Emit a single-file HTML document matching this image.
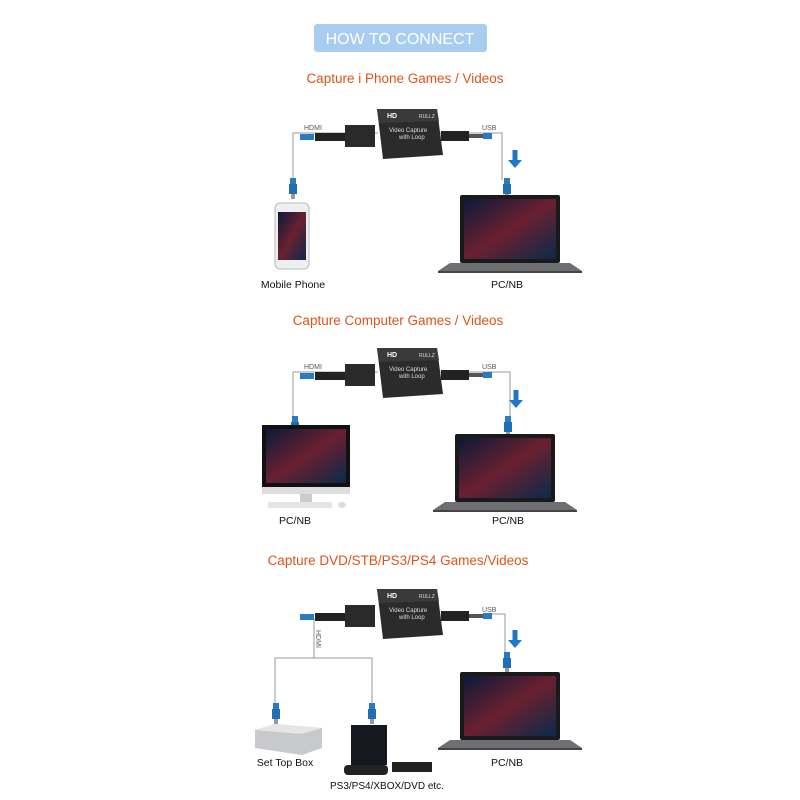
<!DOCTYPE html>
<html><head><meta charset="utf-8"><style>
body{margin:0;background:#fff;}
svg{display:block;font-family:"Liberation Sans",sans-serif;}
</style></head><body>
<svg width="800" height="800" viewBox="0 0 800 800" xmlns="http://www.w3.org/2000/svg">
<defs>
<g id="dev">
  <rect x="-70" y="-2" width="40" height="8" fill="#222"/>
  <rect x="-40" y="-10" width="30" height="22" fill="#2a2a2a"/>
  <rect x="-85" y="-1" width="14" height="6" fill="#2a7bc4"/>
  <polygon points="-8,-26 52,-26 58,20 -2,24" fill="#2b2b2b"/>
  <polygon points="-8,-26 52,-26 54,-14 -6,-12" fill="#3a3a3a"/>
  <text x="2" y="-17" font-size="7" fill="#fff" font-weight="bold">HD</text>
  <text x="34" y="-17" font-size="5" fill="#ddd">RULLZ</text>
  <text x="4" y="-3" font-size="6" fill="#ddd">Video  Capture</text>
  <text x="14" y="4" font-size="6" fill="#ddd">with Loop</text>
  <rect x="56" y="-4" width="28" height="10" fill="#222"/>
  <rect x="84" y="-1" width="14" height="4" fill="#555"/>
  <rect x="98" y="-2" width="9" height="6" fill="#2a7bc4"/>
</g>
<g id="plug">
  <rect x="-3" y="-12" width="6" height="6" fill="#2a7bc4"/>
  <rect x="-4" y="-6" width="8" height="10" fill="#1f6fb5"/>
  <rect x="-2" y="4" width="4" height="5" fill="#999"/>
</g>
<g id="arrow">
  <rect x="-2.5" y="-10" width="5" height="10" fill="#1e78c8"/>
  <polygon points="-7,0 7,0 0,8" fill="#1e78c8"/>
</g>
<linearGradient id="scr" x1="0" y1="0" x2="1" y2="1">
  <stop offset="0" stop-color="#0b1a3a"/><stop offset="0.5" stop-color="#6a2030"/><stop offset="1" stop-color="#0a2a4a"/>
</linearGradient>
<g id="laptop">
  <rect x="0" y="0" width="100" height="68" rx="2" fill="#1a1a1a"/>
  <rect x="4" y="4" width="92" height="60" fill="url(#scr)"/>
  <polygon points="-10,68 110,68 122,76 -22,76" fill="#6e6f73"/>
  <rect x="-22" y="76" width="144" height="2" fill="#444"/>
</g>
</defs>

<rect x="314" y="24" width="173" height="28" rx="3" fill="#a9cdf0"/>
<text x="400" y="44" font-size="16" fill="#fff" text-anchor="middle">HOW TO CONNECT</text>

<g font-size="13.5" fill="#e0531a" text-anchor="middle">
<text x="405" y="83">Capture i Phone Games / Videos</text>
<text x="398" y="325">Capture Computer Games / Videos</text>
<text x="398" y="565">Capture DVD/STB/PS3/PS4 Games/Videos</text>
</g>

<!-- Section 1 -->
<g stroke="#999" fill="none" stroke-width="1">
<polyline points="378,133 293,133 293,182"/>
<polyline points="432,133 502,133 502,180"/>
</g>
<text x="304" y="130" font-size="7" fill="#555">HDMI</text>
<text x="482" y="130" font-size="7" fill="#555">USB</text>
<use href="#dev" x="385" y="135"/>
<use href="#plug" x="293" y="190"/>
<use href="#plug" x="507" y="190"/>
<use href="#arrow" x="515" y="160"/>
<rect x="275" y="203" width="34" height="66" rx="5" fill="#eee" stroke="#bbb"/>
<rect x="278" y="212" width="28" height="48" fill="url(#scr)"/>
<use href="#laptop" x="460" y="195"/>
<g font-size="10.5" fill="#111" text-anchor="middle">
<text x="293" y="288">Mobile Phone</text>
<text x="507" y="288">PC/NB</text>
</g>

<!-- Section 2 -->
<g stroke="#999" fill="none" stroke-width="1">
<polyline points="378,372 293,372 293,420"/>
<polyline points="432,372 510,372 510,420"/>
</g>
<text x="304" y="369" font-size="7" fill="#555">HDMI</text>
<text x="482" y="369" font-size="7" fill="#555">USB</text>
<use href="#dev" x="385" y="374"/>
<use href="#plug" x="295" y="428"/>
<use href="#plug" x="508" y="428"/>
<use href="#arrow" x="516" y="400"/>
<rect x="262" y="425" width="88" height="62" fill="#111"/>
<rect x="266" y="429" width="80" height="54" fill="url(#scr)"/>
<rect x="262" y="487" width="88" height="7" fill="#ddd"/>
<rect x="300" y="494" width="12" height="8" fill="#ccc"/>
<rect x="268" y="502" width="64" height="6" fill="#e6e6e6"/>
<ellipse cx="342" cy="505" rx="4" ry="3" fill="#ddd"/>
<use href="#laptop" x="455" y="434"/>
<g font-size="10.5" fill="#111" text-anchor="middle">
<text x="295" y="524">PC/NB</text>
<text x="508" y="524">PC/NB</text>
</g>

<!-- Section 3 -->
<g stroke="#999" fill="none" stroke-width="1">
<polyline points="314,618 314,658"/>
<polyline points="275,710 275,658 372,658 372,710"/>
<polyline points="492,614 505,614 505,652"/>
</g>
<text x="316" y="630" font-size="7" fill="#555" transform="rotate(90 316 630)">HDMI</text>
<text x="482" y="612" font-size="7" fill="#555">USB</text>
<use href="#dev" x="385" y="615"/>
<use href="#plug" x="276" y="715"/>
<use href="#plug" x="372" y="715"/>
<use href="#plug" x="507" y="664"/>
<use href="#arrow" x="515" y="640"/>
<polygon points="255,730 275,724 322,728 322,748 302,755 255,748" fill="#c8c9cb"/>
<polygon points="255,730 275,724 322,728 302,734" fill="#e4e5e6"/>
<rect x="351" y="725" width="36" height="40" fill="#15181f"/>
<rect x="344" y="765" width="44" height="10" rx="4" fill="#222"/>
<rect x="392" y="762" width="40" height="10" fill="#222"/>
<use href="#laptop" x="460" y="672"/>
<g font-size="10.5" fill="#111" text-anchor="middle">
<text x="285" y="766">Set Top Box</text>
<text x="330" y="789" text-anchor="start" font-size="10">PS3/PS4/XBOX/DVD etc.</text>
<text x="507" y="766">PC/NB</text>
</g>
</svg>
</body></html>
